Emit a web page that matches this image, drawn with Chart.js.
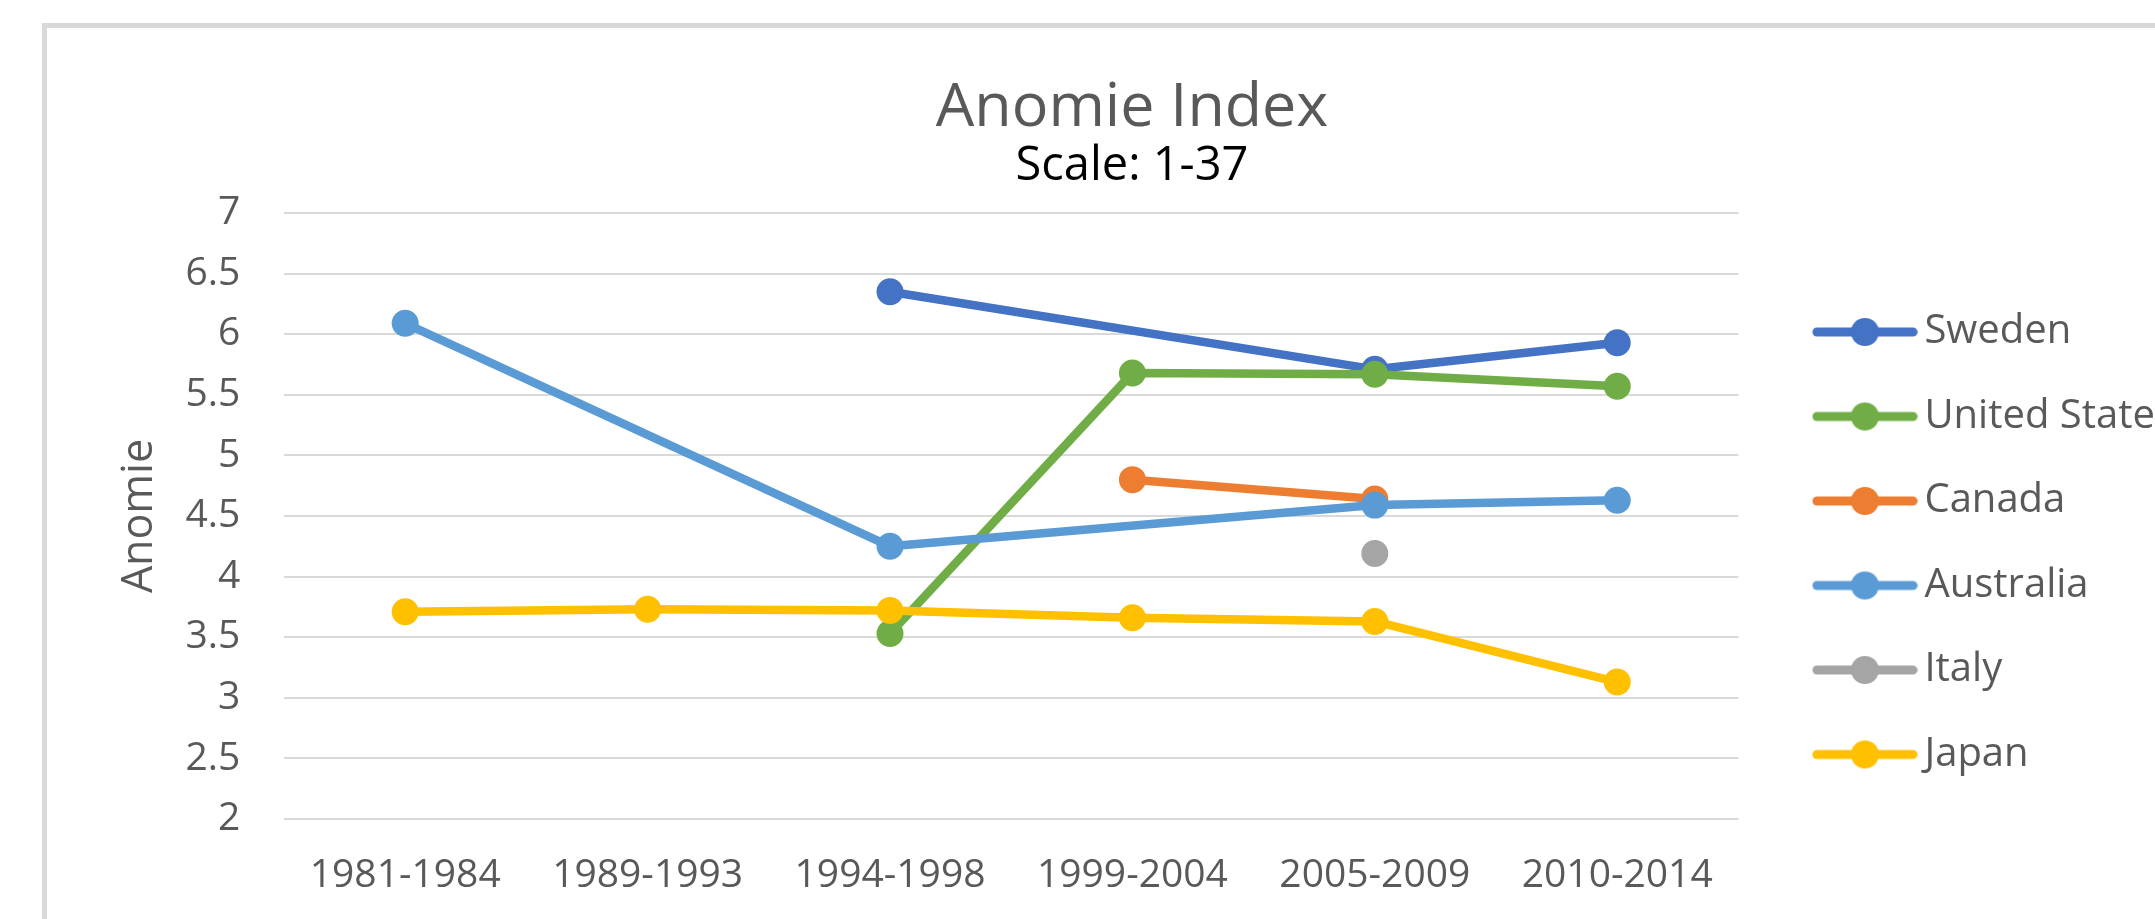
<!DOCTYPE html>
<html>
<head>
<meta charset="utf-8">
<title>Anomie Index</title>
<script src="https://cdn.jsdelivr.net/npm/chart.js@4.4.1/dist/chart.umd.min.js"></script>
<style>
  html, body { margin: 0; padding: 0; background: #fff; overflow: hidden; }
  body { width: 2155px; height: 919px; position: relative; }
  /* chart frame, runs off the right/bottom edge like the original */
  .frame { position: absolute; left: 42px; top: 23px; width: 2300px; height: 1000px; border: 5px solid #d9d9d9; }
  #anomie-chart { position: absolute; left: 0; top: 0; }
</style>
</head>
<body>
<div class="frame"></div>
<canvas id="anomie-chart" width="2184" height="919"></canvas>
<script>
// Data
const periods = ["1981-1984", "1989-1993", "1994-1998", "1999-2004", "2005-2009", "2010-2014"];
const yTicks = [2, 2.5, 3, 3.5, 4, 4.5, 5, 5.5, 6, 6.5, 7];

const countries = ["Sweden", "United States", "Canada", "Australia", "Italy", "Japan"];
const sweden = [null, null, 6.35, null, 5.71, 5.93];
const unitedStates = [null, null, 3.53, 5.68, 5.67, 5.57];
const canada = [null, null, null, 4.8, 4.64, null];
const australia = [6.09, null, 4.25, null, 4.59, 4.63];
const italy = [null, null, null, null, 4.19, null];
const japan = [3.71, 3.73, 3.72, 3.66, 3.63, 3.13];

const seriesValues = [sweden, unitedStates, canada, australia, italy, japan];
const seriesColors = ["#4472C4", "#70AD47", "#ED7D31", "#5B9BD5", "#A5A5A5", "#FFC000"];

const textGray = "#595959";
Chart.defaults.font.family = "'Open Sans', sans-serif";

/**
 * Legend swatch: a short line with a dot on it, Excel style
 */
function legendSwatch(color) {
  const c = document.createElement("canvas");
  c.width = 148;
  c.height = 32;
  const g = c.getContext("2d");
  g.strokeStyle = color;
  g.lineWidth = 9;
  g.lineCap = "round";
  g.beginPath();
  g.moveTo(47.25, 16);
  g.lineTo(143.25, 16);
  g.stroke();
  g.fillStyle = color;
  g.beginPath();
  g.arc(95.25, 16, 14, 0, Math.PI * 2);
  g.fill();
  return c;
}

const swatches = seriesColors.map(legendSwatch);

// later series sit on top, so give them a lower draw order
const datasets = countries.map((name, i) => ({
  label: name,
  data: seriesValues[i],
  borderColor: seriesColors[i],
  backgroundColor: seriesColors[i],
  borderWidth: 8.5,
  borderCapStyle: "round",
  borderJoinStyle: "round",
  pointRadius: 13.5,
  pointBorderWidth: 0,
  pointBackgroundColor: seriesColors[i],
  spanGaps: true,
  tension: 0,
  order: countries.length - i,
}));

const ctx = document.getElementById("anomie-chart");

new Chart(ctx, {
  type: "line",
  data: {
    labels: periods,
    datasets: datasets,
  },
  options: {
    responsive: false,
    animation: false,
    events: [],
    layout: {
      padding: { left: 80, right: 0, top: 0, bottom: 19.6 },
    },
    plugins: {
      title: {
        display: true,
        text: "Anomie Index",
        color: textGray,
        font: { size: 61, weight: "normal", lineHeight: 1 },
        padding: { top: 77.8, bottom: 0 },
      },
      subtitle: {
        display: true,
        text: "Scale: 1-37",
        color: "#000000",
        font: { size: 47, lineHeight: 1 },
        padding: { top: 4.5, bottom: 22.7 },
      },
      legend: {
        position: "right",
        align: "end",
        fullSize: false,
        labels: {
          usePointStyle: true,
          pointStyleWidth: 121.5,
          padding: 44.5,
          color: textGray,
          font: { size: 40 },
          generateLabels: function (chart) {
            return chart.data.datasets.map((ds, i) => ({
              text: ds.label,
              pointStyle: swatches[i],
              fillStyle: ds.borderColor,
              strokeStyle: ds.borderColor,
              fontColor: textGray,
              lineWidth: 0,
              hidden: false,
              datasetIndex: i,
            }));
          },
        },
      },
      tooltip: { enabled: false },
    },
    scales: {
      x: {
        offset: true,
        grid: { display: false, drawTicks: false },
        border: { display: false },
        ticks: {
          color: textGray,
          font: { size: 39 },
          padding: 33.6,
          autoSkip: false,
          maxRotation: 0,
        },
        afterFit: function (axis) {
          axis.height = 80.4;
        },
      },
      y: {
        min: 2,
        max: 7,
        afterBuildTicks: function (axis) {
          axis.ticks = yTicks.map((v) => ({ value: v }));
        },
        grid: { color: "#d9d9d9", lineWidth: 2, drawTicks: false },
        border: { display: false },
        ticks: {
          color: textGray,
          font: { size: 39 },
          padding: 43.6,
          callback: function (value) {
            return String(value);
          },
        },
        title: {
          display: true,
          text: "Anomie",
          color: textGray,
          font: { size: 43 },
          padding: { top: 34.2, bottom: 0 },
        },
        afterFit: function (axis) {
          axis.width = 204;
        },
      },
    },
  },
});
</script>
</body>
</html>
